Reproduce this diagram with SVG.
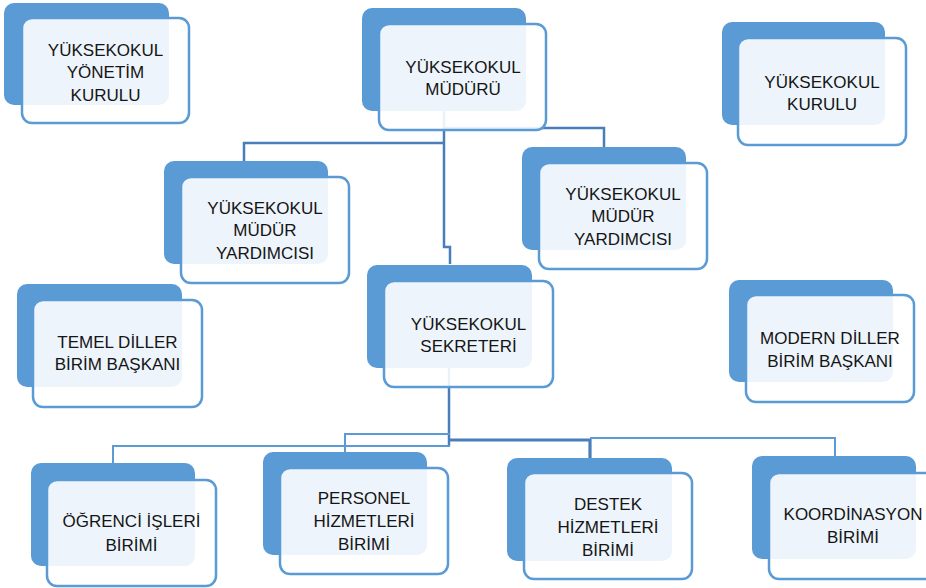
<svg xmlns="http://www.w3.org/2000/svg" width="926" height="588" viewBox="0 0 926 588">
<style>
.back{fill:#5B9BD5}
.front{fill:#FFFFFF;fill-opacity:0.89;stroke:#5B9BD5;stroke-width:2.5}
.t{font-family:"Liberation Sans",Arial,sans-serif;font-size:17px;fill:#151515;text-anchor:middle}
.c{fill:none;stroke:#4A7EBB;stroke-width:2.5}
.cl{fill:none;stroke:#5B9BD5;stroke-width:2}
.ct{fill:none;stroke:#4A7EBB;stroke-width:3.2}
</style>
<rect width="926" height="588" fill="#FFFFFF"/>
<g id="connectors">
<path class="c" d="M444,111 V247 H450 V264"/>
<path class="c" d="M444,143 H244 V161"/>
<path class="c" d="M444,128 H604 V147"/>
<path class="c" d="M449,368 V446"/>
<path class="ct" d="M449,440 H590 V458"/>
<path class="cl" d="M590,438 H835 V456"/>
<path class="cl" d="M450,434 H345 V452"/>
<path class="cl" d="M450,446 H113 V463"/>
</g>
<g id="yonetim-kurulu">
<rect class="back" x="4" y="3" width="165" height="102" rx="10"/>
<rect class="front" x="22" y="18" width="167" height="105" rx="10"/>
<text class="t" x="105.5" y="55.5">YÜKSEKOKUL</text>
<text class="t" x="105.5" y="78">YÖNETİM</text>
<text class="t" x="105.5" y="100.5">KURULU</text>
</g>
<g id="mudur">
<rect class="back" x="362" y="8" width="164" height="103" rx="10"/>
<rect class="front" x="379" y="24" width="167" height="106" rx="10"/>
<text class="t" x="463" y="72.5">YÜKSEKOKUL</text>
<text class="t" x="463" y="95">MÜDÜRÜ</text>
</g>
<g id="kurulu">
<rect class="back" x="722" y="22" width="163" height="103" rx="10"/>
<rect class="front" x="738" y="38" width="168" height="107" rx="10"/>
<text class="t" x="822" y="87.5">YÜKSEKOKUL</text>
<text class="t" x="822" y="110">KURULU</text>
</g>
<g id="mudur-yardimcisi-1">
<rect class="back" x="164" y="161" width="164" height="103" rx="10"/>
<rect class="front" x="181" y="177" width="168" height="106" rx="10"/>
<text class="t" x="265" y="213.5">YÜKSEKOKUL</text>
<text class="t" x="265" y="236">MÜDÜR</text>
<text class="t" x="265" y="258.5">YARDIMCISI</text>
</g>
<g id="mudur-yardimcisi-2">
<rect class="back" x="522" y="147" width="164" height="103" rx="10"/>
<rect class="front" x="539" y="163" width="168" height="106" rx="10"/>
<text class="t" x="623" y="199.5">YÜKSEKOKUL</text>
<text class="t" x="623" y="222">MÜDÜR</text>
<text class="t" x="623" y="244.5">YARDIMCISI</text>
</g>
<g id="sekreter">
<rect class="back" x="367" y="265" width="165" height="103" rx="10"/>
<rect class="front" x="384" y="281" width="169" height="106" rx="10"/>
<text class="t" x="468.5" y="329.5">YÜKSEKOKUL</text>
<text class="t" x="468.5" y="352">SEKRETERİ</text>
</g>
<g id="temel-diller">
<rect class="back" x="17" y="284" width="165" height="103" rx="10"/>
<rect class="front" x="33" y="300" width="169" height="107" rx="10"/>
<text class="t" x="117.5" y="347.5">TEMEL DİLLER</text>
<text class="t" x="117.5" y="370">BİRİM BAŞKANI</text>
</g>
<g id="modern-diller">
<rect class="back" x="729" y="280" width="164" height="102" rx="10"/>
<rect class="front" x="746" y="295" width="168" height="107" rx="10"/>
<text class="t" x="830" y="343.5">MODERN DİLLER</text>
<text class="t" x="830" y="366.5">BİRİM BAŞKANI</text>
</g>
<g id="ogrenci-isleri">
<rect class="back" x="31" y="463" width="164" height="103" rx="10"/>
<rect class="front" x="47" y="480" width="169" height="106" rx="10"/>
<text class="t" x="131.5" y="527">ÖĞRENCİ İŞLERİ</text>
<text class="t" x="131.5" y="550.5">BİRİMİ</text>
</g>
<g id="personel">
<rect class="back" x="263" y="452" width="164" height="103" rx="10"/>
<rect class="front" x="280" y="468" width="168" height="106" rx="10"/>
<text class="t" x="364" y="503.5">PERSONEL</text>
<text class="t" x="364" y="527">HİZMETLERİ</text>
<text class="t" x="364" y="550">BİRİMİ</text>
</g>
<g id="destek">
<rect class="back" x="507" y="458" width="165" height="103" rx="10"/>
<rect class="front" x="524" y="473" width="168" height="106" rx="10"/>
<text class="t" x="608" y="510">DESTEK</text>
<text class="t" x="608" y="533">HİZMETLERİ</text>
<text class="t" x="608" y="556">BİRİMİ</text>
</g>
<g id="koordinasyon">
<rect class="back" x="752" y="456" width="164" height="103" rx="10"/>
<rect class="front" x="769" y="473" width="168" height="106" rx="10"/>
<text class="t" x="853" y="520">KOORDİNASYON</text>
<text class="t" x="853" y="543">BİRİMİ</text>
</g>
</svg>
